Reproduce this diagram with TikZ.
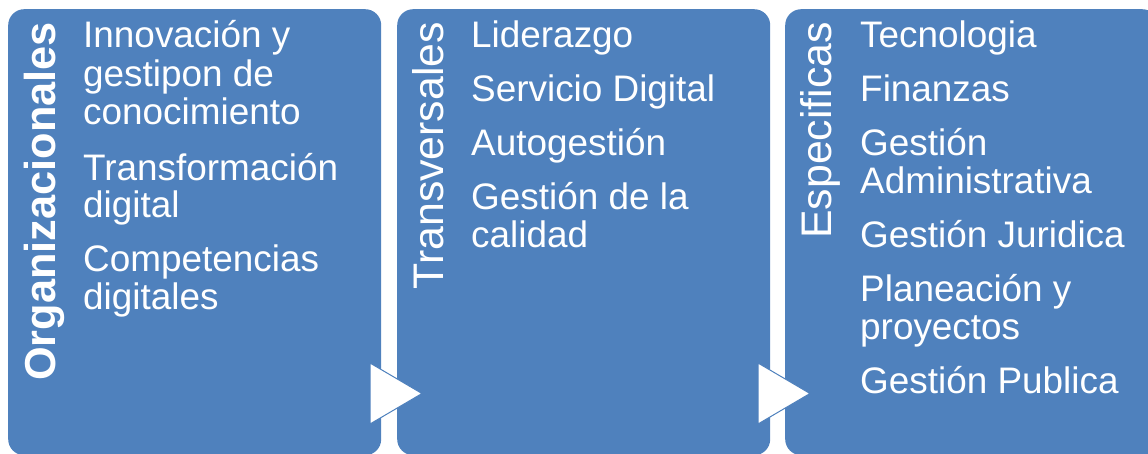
\documentclass[tikz,border=0pt]{standalone}
\usepackage{fontspec}
\setmainfont{Liberation Sans}
\definecolor{boxblue}{RGB}{79,129,189}
\tikzset{
  panel/.style={fill=boxblue, rounded corners=16pt, inner sep=0, anchor=north west, minimum width=373pt, minimum height=446pt},
  item/.style={anchor=base west, inner sep=0, text=white, font=\fontsize{36.9}{38}\selectfont},
  vlabel/.style={anchor=base east, rotate=90, inner sep=0, text=white, font=\fontsize{42.8}{46}\selectfont},
  chevron/.style={fill=white, draw=boxblue, line width=1pt, line join=miter}
}
\begin{document}
\begin{tikzpicture}[x=1pt,y=-1pt]
\useasboundingbox (0,0) rectangle (1148,453);
\clip (0,0) rectangle (1148,453);
\node[panel] (p1) at (8,9) {};
\node[panel] (p2) at (397,9) {};
\node[panel] (p3) at (785,9) {};
% arrows
\coordinate (a1) at (370,363);
\coordinate (a1t) at (422,393.5);
\coordinate (a1b) at (370,424);
\draw[chevron] (a1) -- (a1t) -- (a1b) -- cycle;
\coordinate (a2) at (758,363);
\coordinate (a2t) at (810,393.5);
\coordinate (a2b) at (758,424);
\draw[chevron] (a2) -- (a2t) -- (a2b) -- cycle;
% vertical labels
\node[vlabel, font=\fontsize{43.3}{46}\selectfont\bfseries] (v1) at (55,22) {Organizacionales};
\node[vlabel] (v2) at (443,22) {Transversales};
\node[vlabel] (v3) at (831,22) {Especificas};
% box 1
\node[item] (b1a) at (83,47.7) {Innovación y};
\node[item] (b1b) at (83,86) {gestipon de};
\node[item] (b1c) at (83,124) {conocimiento};
\node[item] (b1d) at (83,180) {Transformación};
\node[item] (b1e) at (83,217.5) {digital};
\node[item] (b1f) at (83,271.7) {Competencias};
\node[item] (b1g) at (83,309.5) {digitales};
% box 2
\node[item] (b2a) at (471,47.7) {Liderazgo};
\node[item] (b2b) at (471,101.5) {Servicio Digital};
\node[item] (b2c) at (471,155.5) {Autogestión};
\node[item] (b2d) at (471,209.3) {Gestión de la};
\node[item] (b2e) at (471,247.3) {calidad};
% box 3
\node[item] (b3a) at (860,47.7) {Tecnologia};
\node[item] (b3b) at (860,101.5) {Finanzas};
\node[item] (b3c) at (860,155.5) {Gestión};
\node[item] (b3d) at (860,193.5) {Administrativa};
\node[item] (b3e) at (860,247.5) {Gestión Juridica};
\node[item] (b3f) at (860,301.5) {Planeación y};
\node[item] (b3g) at (860,339.5) {proyectos};
\node[item] (b3h) at (860,393.5) {Gestión Publica};
\end{tikzpicture}
\end{document}
